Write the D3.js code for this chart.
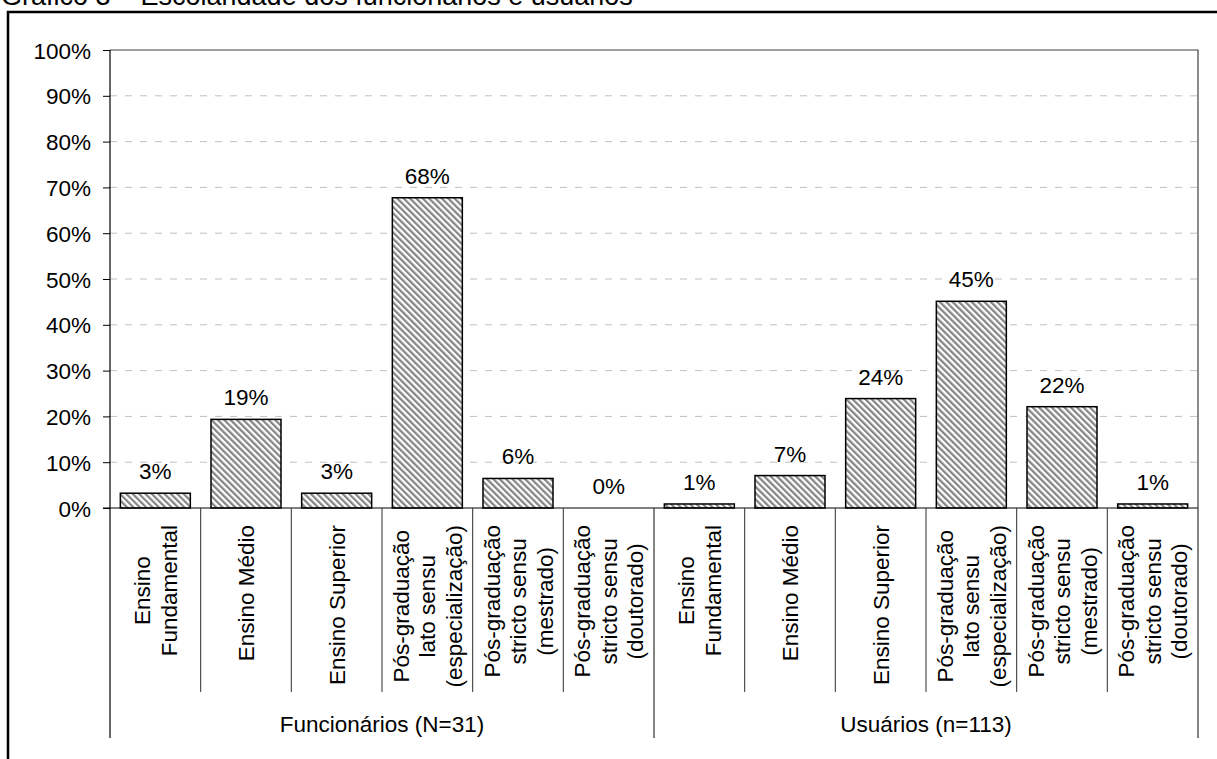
<!DOCTYPE html>
<html>
<head>
<meta charset="utf-8">
<script src="https://cdn.jsdelivr.net/npm/d3@7"></script>
<style>
  html, body { margin: 0; padding: 0; background: #fff; }
  svg { display: block; font-family: "Liberation Sans", Arial, sans-serif; }
</style>
</head>
<body>
<svg id="chart" width="1217" height="759"></svg>
<script>
// Education level of staff and users (share of each group)
const title = "Gráfico 3 – Escolaridade dos funcionários e usuários";
const groups = ["Funcionários (N=31)", "Usuários (n=113)"];
const levels = [
  ["Ensino", "Fundamental"],
  ["Ensino Médio"],
  ["Ensino Superior"],
  ["Pós-graduação", "lato sensu", "(especialização)"],
  ["Pós-graduação", "stricto sensu", "(mestrado)"],
  ["Pós-graduação", "stricto sensu", "(doutorado)"]
];
const funcionarios = [0.0323, 0.1935, 0.0323, 0.6774, 0.0645, 0];
const usuarios = [0.0088, 0.0708, 0.2389, 0.4513, 0.2212, 0.0088];
const yTicks = [0, 0.1, 0.2, 0.3, 0.4, 0.5, 0.6, 0.7, 0.8, 0.9, 1];

const rows = [];
[funcionarios, usuarios].forEach((vals, g) => {
  vals.forEach((v, i) => rows.push({ key: g + "-" + i, group: g, level: i, value: v }));
});

const svg = d3.select("#chart");
const fontSize = 22.5;
const plotLeft = 110, plotRight = 1198, plotTop = 50, plotBottom = 508;
const catBottom = 692, groupBottom = 738;

const x = d3.scaleBand().domain(rows.map(d => d.key)).range([plotLeft, plotRight])
  .paddingInner(0.228).paddingOuter(0.114);
const y = d3.scaleLinear().domain([0, 1]).range([plotBottom, plotTop]);
const pct = d3.format(".0%");

// diagonal hatch fill
const defs = svg.append("defs");
const pat = defs.append("pattern").attr("id", "hatch")
  .attr("patternUnits", "userSpaceOnUse").attr("width", 4.5).attr("height", 4.5)
  .attr("patternTransform", "rotate(-45)");
pat.append("rect").attr("width", 4.5).attr("height", 4.5).attr("fill", "#fff");
pat.append("rect").attr("width", 2.25).attr("height", 4.5).attr("fill", "#858585");

// title (sits partly above the page edge)
svg.append("text").attr("x", 1).attr("y", 5).attr("font-size", 27)
  .attr("fill", "#000").text(title);

// outer chart frame
svg.append("rect").attr("x", 8).attr("y", 12).attr("width", 1400).attr("height", 1000)
  .attr("fill", "none").attr("stroke", "#000").attr("stroke-width", 2.5);

// gridlines
svg.append("g").selectAll("line").data(yTicks.filter(t => t > 0 && t < 1)).join("line")
  .attr("x1", plotLeft).attr("x2", plotRight)
  .attr("y1", d => y(d)).attr("y2", d => y(d))
  .attr("stroke", "#c0c0c0").attr("stroke-width", 1).attr("stroke-dasharray", "7,8");

// plot area border (top and right)
svg.append("path")
  .attr("d", `M${plotLeft},${y(1)}H${plotRight}V${plotBottom}`)
  .attr("fill", "none").attr("stroke", "#404040").attr("stroke-width", 1.2);

// y axis
const yAxis = d3.axisLeft(y).tickValues(yTicks).tickFormat(pct).tickSize(7).tickPadding(12);
const yg = svg.append("g").attr("transform", `translate(${plotLeft},0)`).call(yAxis);
yg.select(".domain").remove();
yg.selectAll(".tick line").attr("stroke", "#000");
yg.selectAll(".tick text").attr("font-size", fontSize).attr("font-family", null)
  .attr("fill", "#000").attr("dy", "0.36em");

// bars
svg.append("g").selectAll("rect").data(rows).join("rect")
  .attr("x", d => x(d.key)).attr("width", x.bandwidth())
  .attr("y", d => y(d.value)).attr("height", d => y(0) - y(d.value))
  .attr("fill", "url(#hatch)").attr("stroke", "#000").attr("stroke-width", 1.5);

// value labels
svg.append("g").selectAll("text").data(rows).join("text")
  .attr("x", d => x(d.key) + x.bandwidth() / 2)
  .attr("y", d => y(d.value) - 14)
  .attr("text-anchor", "middle").attr("font-size", fontSize).attr("fill", "#000")
  .text(d => pct(d.value));

// y axis line and x axis line
svg.append("line").attr("x1", plotLeft).attr("x2", plotLeft).attr("y1", plotTop).attr("y2", groupBottom)
  .attr("stroke", "#000").attr("stroke-width", 1.2);
svg.append("line").attr("x1", plotLeft - 7).attr("x2", plotRight).attr("y1", plotBottom).attr("y2", plotBottom)
  .attr("stroke", "#000").attr("stroke-width", 1.2);

// category dividers
const step = x.step();
const edgeOf = i => x(rows[i].key) - x.paddingInner() * step / 2;
const bounds = d3.range(1, rows.length).filter(i => i !== levels.length).map(edgeOf);
svg.append("g").selectAll("line").data(bounds).join("line")
  .attr("x1", d => d).attr("x2", d => d).attr("y1", plotBottom).attr("y2", catBottom)
  .attr("stroke", "#404040").attr("stroke-width", 1.1);
const groupEdges = [edgeOf(levels.length), plotRight];
svg.append("g").selectAll("line").data(groupEdges).join("line")
  .attr("x1", d => d).attr("x2", d => d).attr("y1", plotBottom).attr("y2", groupBottom)
  .attr("stroke", "#333").attr("stroke-width", 1.2);

// rotated category labels
const lineH = 26.5, capH = 0.716 * fontSize, labelTop = 525;
rows.forEach(d => {
  const lines = levels[d.level];
  const cx = x(d.key) + x.bandwidth() / 2;
  const t = svg.append("text").attr("font-size", fontSize).attr("fill", "#000")
    .attr("text-anchor", "middle");
  const spans = lines.map((s, i) => t.append("tspan").attr("x", 0)
    .attr("y", (i - (lines.length - 1) / 2) * lineH + capH / 2).text(s));
  const maxLen = d3.max(spans, s => s.node().getComputedTextLength());
  t.attr("transform", `translate(${cx},${labelTop + maxLen / 2}) rotate(-90)`);
});

// group labels
groups.forEach((g, gi) => {
  const first = edgeOf(gi * levels.length);
  const last = gi === groups.length - 1 ? plotRight : edgeOf((gi + 1) * levels.length);
  svg.append("text").attr("x", (first + last) / 2).attr("y", 732)
    .attr("text-anchor", "middle").attr("font-size", fontSize).attr("fill", "#000").text(g);
});
</script>
</body>
</html>
